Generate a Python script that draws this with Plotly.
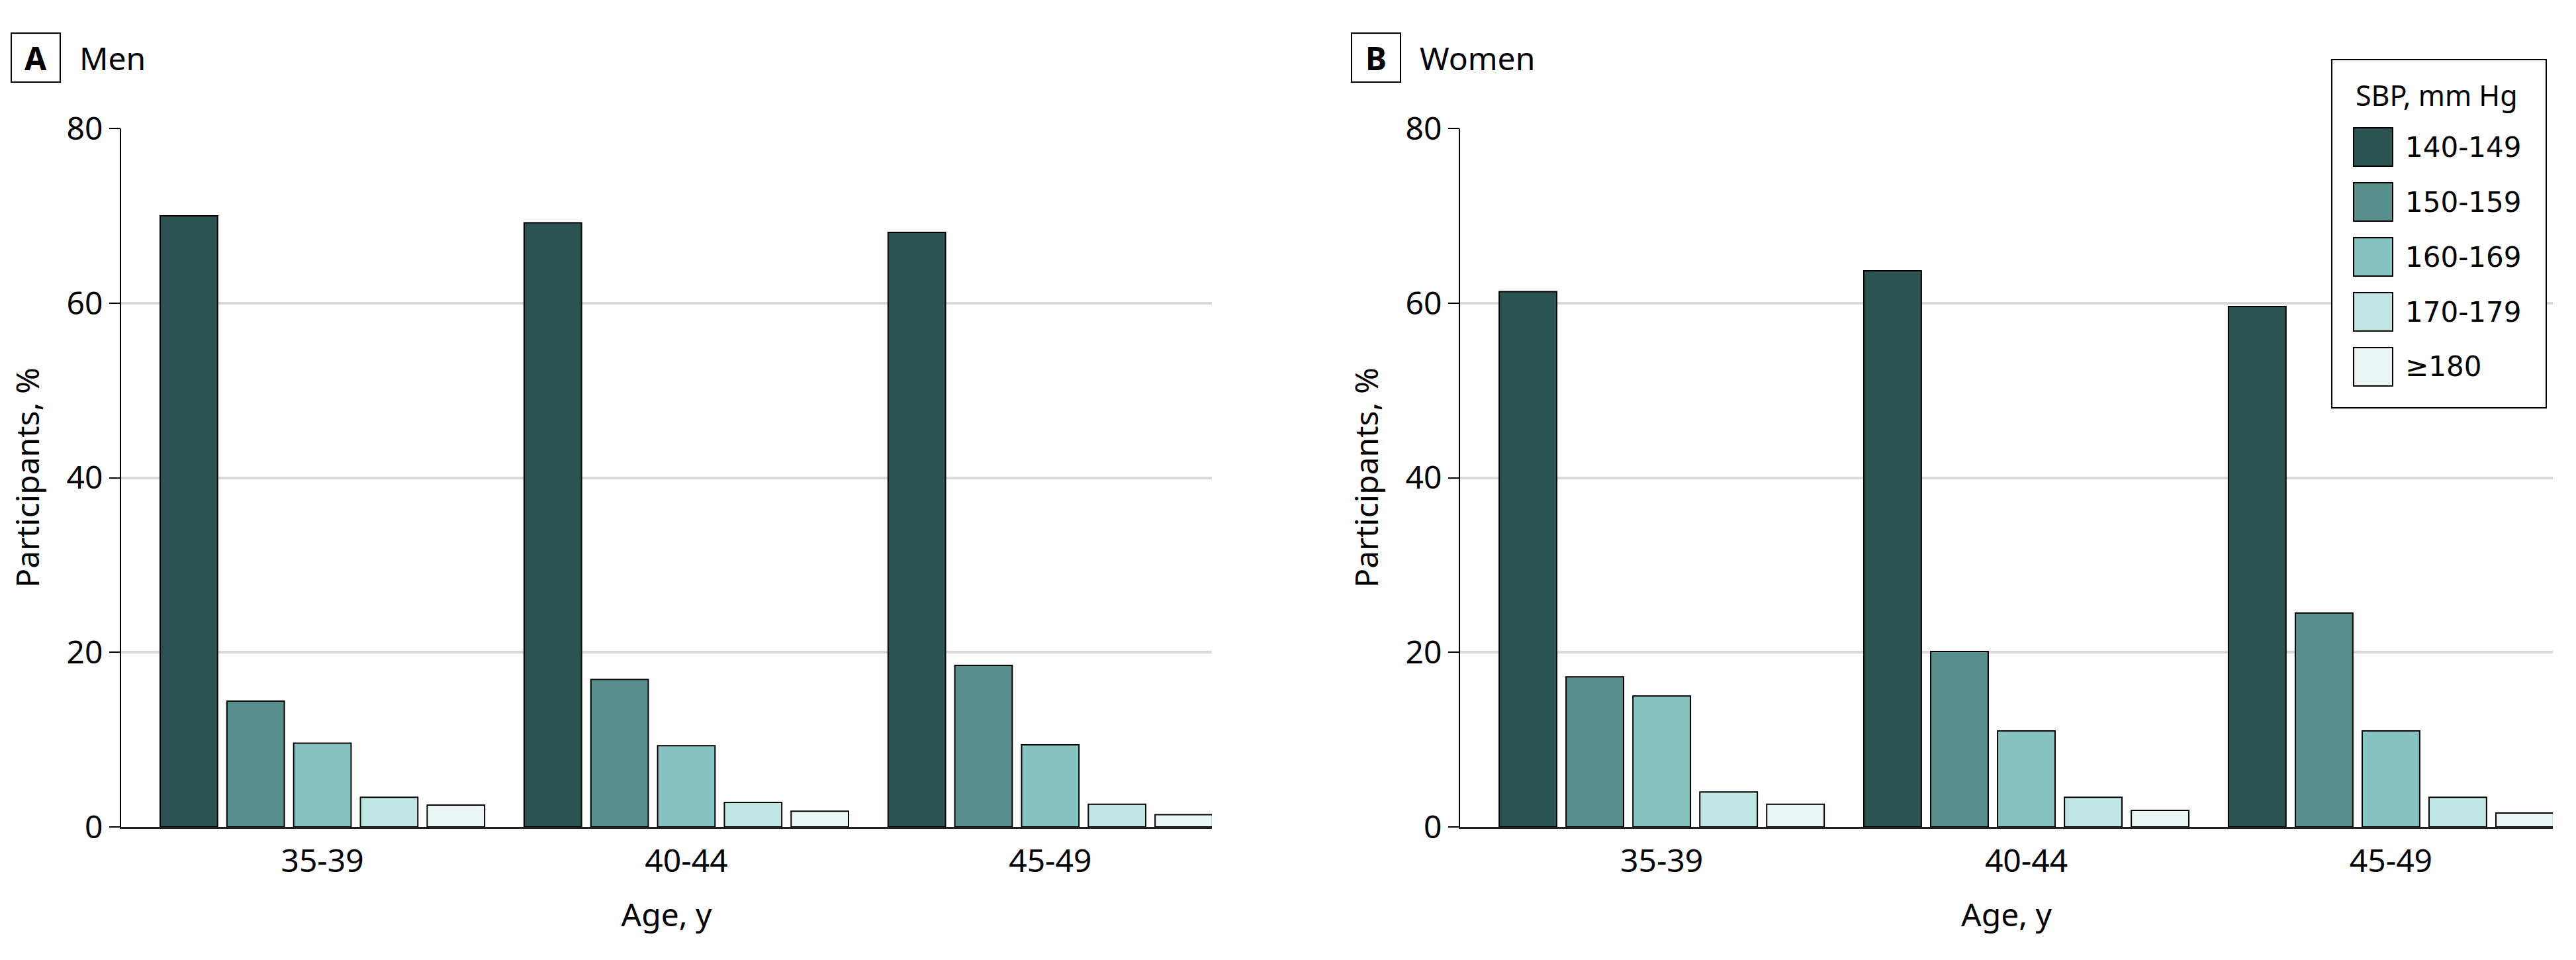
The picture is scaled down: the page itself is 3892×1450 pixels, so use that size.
import plotly.graph_objects as go

# ---------------- data ----------------
age_groups = ["35-39", "40-44", "45-49"]
sbp_labels = ["140-149", "150-159", "160-169", "170-179", "≥180"]
sbp_colors = ["#2A5352", "#588E8B", "#86C2C1", "#C0E6E4", "#EAF4F4"]

men_140_149 = [70.0, 69.2, 68.1]
men_150_159 = [14.4, 16.9, 18.5]
men_160_169 = [9.6, 9.3, 9.4]
men_170_179 = [3.4, 2.8, 2.6]
men_180_plus = [2.5, 1.8, 1.4]

women_140_149 = [61.3, 63.7, 59.6]
women_150_159 = [17.2, 20.1, 24.5]
women_160_169 = [15.0, 11.0, 11.0]
women_170_179 = [4.0, 3.4, 3.4]
women_180_plus = [2.6, 1.9, 1.6]

y_ticks = [0, 20, 40, 60, 80]

men_series = [men_140_149, men_150_159, men_160_169, men_170_179, men_180_plus]
women_series = [women_140_149, women_150_159, women_160_169, women_170_179, women_180_plus]

# ---------------- layout helpers ----------------
# page body has an 8px margin, so the figure is drawn offset by 8px
OFF = 8
W, H = 3892 - 2 * OFF, 1450 - 2 * OFF
def fx(p):
    return (p - OFF) / W
def fy(p):
    return 1 - (p - OFF) / H

FONT = "Noto Sans"

fig = go.Figure()
for i, name in enumerate(sbp_labels):
    fig.add_trace(go.Bar(
        x=age_groups, y=men_series[i], name=name,
        marker=dict(color=sbp_colors[i], line=dict(color="black", width=2)),
        xaxis="x", yaxis="y", showlegend=False,
    ))
    fig.add_trace(go.Bar(
        x=age_groups, y=women_series[i], name=name,
        marker=dict(color=sbp_colors[i], line=dict(color="black", width=2)),
        xaxis="x2", yaxis="y2", showlegend=False,
    ))

ydom = [fy(1249), fy(194)]
xrange = [-0.553, 2.444]

def xaxis_cfg(domain, anchor):
    return dict(
        domain=domain, anchor=anchor, type="category", range=xrange,
        automargin=False,
        showline=True, linecolor="#222222", linewidth=3,
        ticks="outside", ticklen=7, tickcolor="rgba(0,0,0,0)",
        tickfont=dict(family=FONT, size=48, color="black"),
        title=dict(text="Age, y", font=dict(family=FONT, size=48, color="black"), standoff=36),
        showgrid=False, zeroline=False,
    )

def yaxis_cfg(anchor):
    return dict(
        domain=ydom, anchor=anchor, range=[0, 80], tickvals=y_ticks,
        automargin=False,
        showgrid=True, gridcolor="#d9d9d9", gridwidth=4,
        showline=True, linecolor="black", linewidth=2,
        ticks="outside", ticklen=16, tickwidth=2, tickcolor="black",
        tickfont=dict(family=FONT, size=48, color="black"),
        title=dict(text="Participants, %", font=dict(family=FONT, size=48, color="black"), standoff=26),
        zeroline=False,
    )

fig.update_layout(
    width=W, height=H,
    margin=dict(l=0, r=0, t=0, b=0, autoexpand=False),
    paper_bgcolor="white", plot_bgcolor="white",
    barmode="group", bargap=0.083, bargroupgap=0.14,
    xaxis=xaxis_cfg([fx(183), fx(1831)], "y"),
    yaxis=yaxis_cfg("x"),
    xaxis2=xaxis_cfg([fx(2206), fx(3857)], "y2"),
    yaxis2=yaxis_cfg("x2"),
    showlegend=False,
)

shapes = []
annotations = []

# panel labels
for box_left, letter, title in [(17, "A", "Men"), (2042, "B", "Women")]:
    shapes.append(dict(type="rect", xref="paper", yref="paper",
                       x0=fx(box_left), x1=fx(box_left + 74), y0=fy(124), y1=fy(50),
                       line=dict(color="black", width=2), fillcolor="white"))
    annotations.append(dict(xref="paper", yref="paper", x=fx(box_left + 37), y=fy(87),
                            text="<b>%s</b>" % letter, showarrow=False,
                            xanchor="center", yanchor="middle",
                            font=dict(family=FONT, size=48, color="black")))
    annotations.append(dict(xref="paper", yref="paper", x=fx(box_left + 101), y=fy(87),
                            text=title, showarrow=False,
                            xanchor="left", yanchor="middle",
                            font=dict(family=FONT, size=48, color="black")))

# manual legend (large swatches)
shapes.append(dict(type="rect", xref="paper", yref="paper",
                   x0=fx(3523), x1=fx(3847), y0=fy(616), y1=fy(90),
                   line=dict(color="black", width=2), fillcolor="white", layer="above"))
annotations.append(dict(xref="paper", yref="paper", x=fx(3557), y=fy(143),
                        text="SBP, mm Hg", showarrow=False, xanchor="left", yanchor="middle",
                        font=dict(family=FONT, size=43, color="black")))
for i, (lab, col) in enumerate(zip(sbp_labels, sbp_colors)):
    top = 193 + 83 * i
    shapes.append(dict(type="rect", xref="paper", yref="paper",
                       x0=fx(3556), x1=fx(3615), y0=fy(top + 58), y1=fy(top),
                       line=dict(color="black", width=2), fillcolor=col, layer="above"))
    annotations.append(dict(xref="paper", yref="paper", x=fx(3632), y=fy(top + 29),
                            text=lab, showarrow=False, xanchor="left", yanchor="middle",
                            font=dict(family="DejaVu Sans", size=42, color="black")))

fig.update_layout(shapes=shapes, annotations=annotations)
fig.write_html("out.html")
